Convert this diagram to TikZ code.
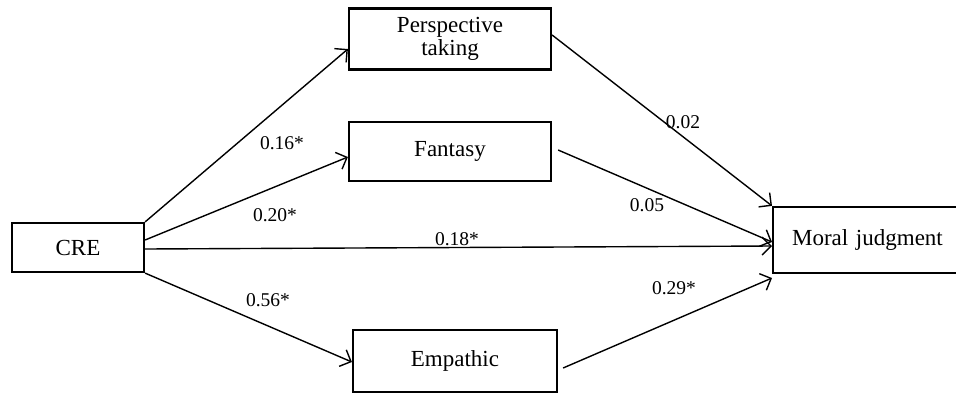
\documentclass[tikz,border=0pt]{standalone}
\usepackage{fontspec}
\setmainfont{Liberation Serif}
\usetikzlibrary{arrows.meta}
\begin{document}
\begin{tikzpicture}[x=1pt,y=-1pt,
  box/.style={draw,line width=2.2pt,rectangle,inner sep=0pt,font=\fontsize{23}{24}\selectfont,align=center},
  path/.style={line width=1.4pt,-{Straight Barb[length=9pt,width=18pt,line width=1.4pt]}},
  coef/.style={font=\fontsize{19.5}{20}\selectfont,inner sep=0pt}]
\useasboundingbox (0,0) rectangle (956,394);
\node[box,minimum width=132pt,minimum height=49pt] (cre) at (78,247.5) {CRE};
\node[box,minimum width=202pt,minimum height=61pt] (pt) at (450,39) {Perspective\\[-1pt]taking};
\node[box,minimum width=202pt,minimum height=59pt] (fa) at (450,151.5) {Fantasy};
\node[box,minimum width=204pt,minimum height=62pt] (em) at (455,361) {Empathic};
\node[box,minimum width=190pt,minimum height=66pt,anchor=west,text width=184pt,align=left] (mj) at (772,240) {\hspace{16pt}Moral judgment};
\draw[path] (cre.north east) -- ([yshift=-10pt]pt.west);
\draw[path] ([yshift=7.5pt]cre.east) -- ([yshift=-5.5pt]fa.west);
\draw[path] ([yshift=-1.5pt]cre.east) -- ([yshift=-6pt]mj.west);
\draw[path] (cre.south east) -- ([yshift=-1pt]em.west);
\draw[path] ([yshift=4pt]pt.east) -- (mj.north west);
\draw[path] ([xshift=6pt,yshift=1.5pt]fa.east) -- ([yshift=-2pt]mj.west);
\draw[path] ([xshift=5pt,yshift=-7pt]em.east) -- ([yshift=-38pt]mj.west);
\node[coef] (l1) at (282,143) {0.16*};
\node[coef] (l2) at (275,215) {0.20*};
\node[coef] (l3) at (457,239) {0.18*};
\node[coef] (l4) at (268,300) {0.56*};
\node[coef] (l5) at (683,122) {0.02};
\node[coef] (l6) at (647,205) {0.05};
\node[coef] (l7) at (674,288) {0.29*};
\end{tikzpicture}
\end{document}
